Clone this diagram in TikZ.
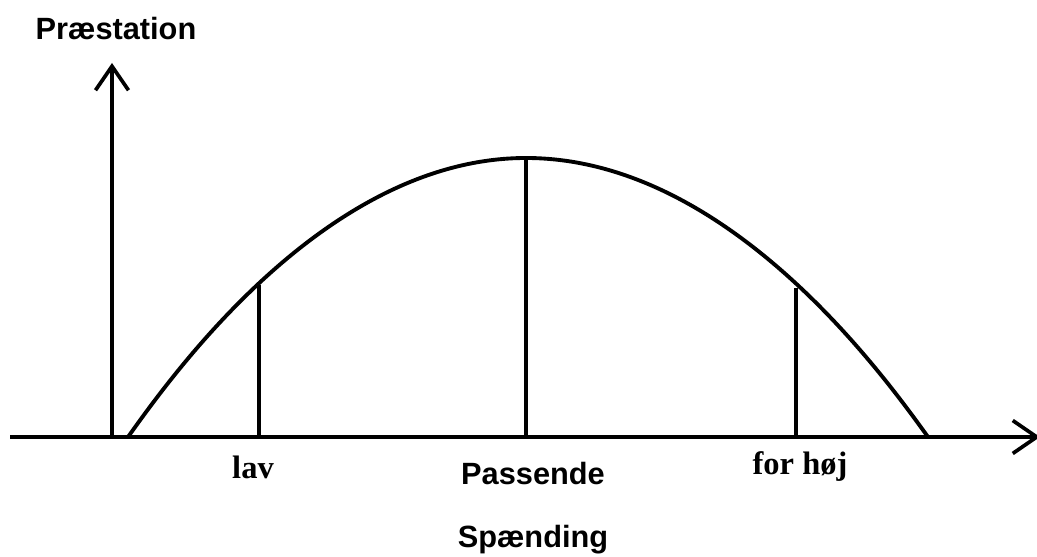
\documentclass[tikz,border=0pt]{standalone}
\usepackage{fontspec}
\setmainfont{Liberation Serif}
\setsansfont{Liberation Sans}
\usepackage{tikz}
\usetikzlibrary{arrows.meta,positioning,calc}
\tikzset{
  axis/.style={line width=2.1pt,-{Straight Barb[length=4.8mm,width=6.6mm,line width=2.1pt]}},
  curve/.style={line width=2.2pt},
  guide/.style={line width=1.8pt},
  sanslbl/.style={font=\sffamily\bfseries\fontsize{17.5}{20}\selectfont},
  seriflbl/.style={font=\rmfamily\bfseries\fontsize{18.5}{21}\selectfont},
}

\begin{document}
\begin{tikzpicture}[x=0.02cm,y=0.02cm]
    \useasboundingbox (0,0) rectangle (1037,557);
    % axes
    \coordinate (origin) at (112,120);
    \coordinate (xstart) at (10,120);
    \coordinate (xend) at (1040,120);
    \coordinate (yend) at (112,494);
    \draw[axis] (xstart) -- (xend);
    \draw[axis] (origin) -- (yend);
    % curve
    \coordinate (lo) at (128,120);
    \coordinate (top) at (526,399);
    \coordinate (hi) at (928,120);
    \draw[curve] (lo) parabola bend (top) (hi);
    % markers
    \coordinate (lavbase) at (259,120);
    \coordinate (lavtop) at (259,272);
    \coordinate (midbase) at (526,120);
    \coordinate (hojbase) at (796,120);
    \coordinate (hojtop) at (796,269);
    \draw[guide] (lavbase) -- (lavtop);
    \draw[guide] (midbase) -- (top);
    \draw[guide] (hojbase) -- (hojtop);
    % labels
    \node[sanslbl] (ylabel) at (116,528) {Præstation};
    \node[seriflbl] (lav) at (253,90) {lav};
    \node[sanslbl] (passende) at (533,83) {Passende};
    \node[seriflbl] (forhoj) at (800,90) {for høj};
    \node[sanslbl] (xlabel) at (533,17) {Spænding};
\end{tikzpicture}
\end{document}
